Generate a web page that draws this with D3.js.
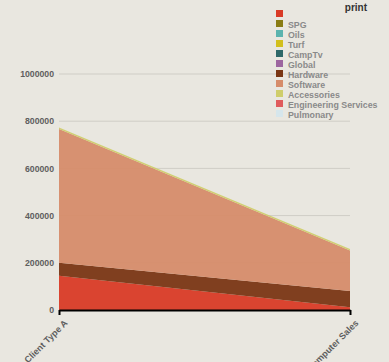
<!DOCTYPE html>
<html><head><meta charset="utf-8">
<script src="https://cdn.jsdelivr.net/npm/d3@7"></script>
<style>
html,body{margin:0;padding:0;background:#e9e7e0;}
svg{display:block;font-family:Arial, "Liberation Sans", sans-serif;}
</style></head>
<body><svg id="c" width="389" height="362"></svg>
<script>
const categories = ["Client Type A", "Computer Sales"];
const seriesNames = ["", "SPG", "Oils", "Turf", "CampTv", "Global", "Hardware", "Software", "Accessories", "Engineering Services", "Pulmonary"];
const seriesColors = ["#d93b26", "#8a7c14", "#5bb3ae", "#d2bf1c", "#2e6868", "#9d66a0", "#7a3614", "#d68c6a", "#cfcd6a", "#e05c5c", "#d6e6ec"];
const values = [
  [145000, 12000],
  [0, 0],
  [0, 0],
  [0, 0],
  [0, 0],
  [0, 0],
  [55000, 68000],
  [567000, 172000],
  [6000, 7000],
  [0, 0],
  [0, 0]
];
const yTicks = [0, 200000, 400000, 600000, 800000, 1000000];
const legendTitle = "print";

const svg = d3.select("#c");
const x = d3.scalePoint().domain(categories).range([59, 350]);
const y = d3.scaleLinear().domain([0, 1000000]).range([310, 74]);

// gridlines
svg.append("g").selectAll("line").data(yTicks.filter(d => d > 0)).join("line")
  .attr("x1", 59).attr("x2", 350).attr("y1", d => y(d)).attr("y2", d => y(d))
  .attr("stroke", "#cfcdc6").attr("stroke-width", 1);

// stack
const rows = categories.map((c, i) => {
  const o = {cat: c};
  seriesNames.forEach((s, j) => o["s" + j] = values[j][i]);
  return o;
});
const stack = d3.stack().keys(seriesNames.map((s, j) => "s" + j));
const layers = stack(rows);
const area = d3.area().x(d => x(d.data.cat)).y0(d => y(d[0])).y1(d => y(d[1]));
svg.append("g").selectAll("path").data(layers).join("path")
  .attr("d", area).attr("fill", (d, i) => seriesColors[i]).attr("fill-opacity", 0.95);

// y axis labels
const yAxis = d3.axisLeft(y).tickValues(yTicks).tickSize(0).tickPadding(5).tickFormat(d3.format("d"));
const ya = svg.append("g").attr("transform", "translate(59,0)").call(yAxis);
ya.select(".domain").remove();
ya.selectAll("text").attr("font-size", 8.7).attr("font-weight", "bold").attr("fill", "#5e5e5e").attr("font-family", "Arial, 'Liberation Sans', sans-serif");

// x axis
const xAxis = d3.axisBottom(x).tickSize(5).tickSizeOuter(0).tickPadding(4);
const xa = svg.append("g").attr("transform", "translate(0,310)").call(xAxis);
xa.select(".domain").attr("stroke", "#000").attr("stroke-width", 2);
xa.selectAll(".tick line").attr("stroke", "#000").attr("stroke-width", 2);
xa.selectAll("text").attr("font-size", 9).attr("font-weight", "bold").attr("fill", "#5e5e5e")
  .attr("font-family", "Arial, 'Liberation Sans', sans-serif")
  .attr("text-anchor", "end").attr("dy", "0.35em")
  .attr("transform", "translate(0,5) rotate(-45)");

// legend
const lg = svg.append("g");
lg.append("text").text(legendTitle).attr("x", 367).attr("y", 11).attr("text-anchor", "end")
  .attr("font-size", 10).attr("font-weight", "bold").attr("fill", "#333");
const items = lg.selectAll("g.it").data(seriesNames).join("g").attr("class", "it")
  .attr("transform", (d, i) => `translate(276,${10 + i * 10})`);
items.append("rect").attr("width", 7).attr("height", 7).attr("fill", (d, i) => seriesColors[i]);
items.append("text").text(d => d).attr("x", 12).attr("y", 7.5).attr("font-size", 8.8)
  .attr("font-weight", "bold").attr("fill", "#8a8a8a");
</script></body></html>
